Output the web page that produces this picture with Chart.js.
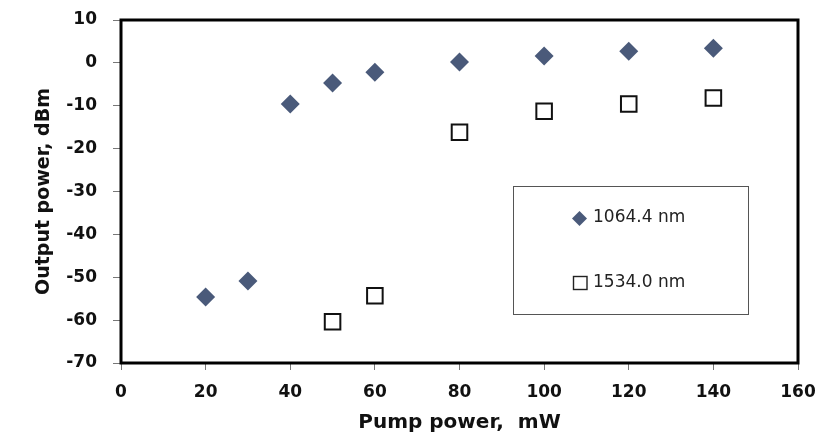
<!DOCTYPE html>
<html>
<head>
<meta charset="utf-8">
<script src="https://cdn.jsdelivr.net/npm/chart.js@4/dist/chart.umd.min.js"></script>
<style>
  html, body { margin: 0; padding: 0; background: #fff; }
  #wrap { width: 821px; height: 439px; }
</style>
</head>
<body>
<div id="wrap"><canvas id="pumpChart"></canvas></div>
<script>
// ========== DATA ==========
const pumpA = [20, 30, 40, 50, 60, 80, 100, 120, 140];
const outA = [-54.6, -50.9, -9.6, -4.7, -2.2, 0.2, 1.6, 2.7, 3.4];
const pumpB = [50, 60, 80, 100, 120, 140];
const outB = [-60.4, -54.3, -16.2, -11.3, -9.6, -8.2];
const seriesLabels = ['1064.4 nm', '1534.0 nm'];

const toPoints = (xs, ys) => xs.map((x, i) => ({ x: x, y: ys[i] }));

// frame around plot + legend box inside
const framePlugin = {
  id: 'frame',
  afterDraw(chart) {
    const { ctx, chartArea: a } = chart;
    ctx.save();
    ctx.strokeStyle = '#000';
    ctx.lineWidth = 3;
    ctx.strokeRect(a.left, a.top, a.right - a.left, a.bottom - a.top);

    // legend box
    const bx = 513, by = 186, bw = 235, bh = 128;
    ctx.lineWidth = 1;
    ctx.strokeStyle = '#555';
    ctx.fillStyle = '#fff';
    ctx.fillRect(bx, by, bw, bh);
    ctx.strokeRect(bx + 0.5, by + 0.5, bw, bh);

    // diamond
    ctx.fillStyle = '#4a5a7a';
    ctx.beginPath();
    ctx.moveTo(579.5, 211); ctx.lineTo(587, 218.5); ctx.lineTo(579.5, 226); ctx.lineTo(572, 218.5);
    ctx.closePath();
    ctx.fill();
    // square
    ctx.strokeStyle = '#222';
    ctx.lineWidth = 1.4;
    ctx.strokeRect(573.5, 276.5, 13.5, 13);

    ctx.fillStyle = '#222';
    ctx.font = '17px "DejaVu Sans"';
    ctx.textBaseline = 'middle';
    ctx.fillText(seriesLabels[0], 593, 218);
    ctx.fillText(seriesLabels[1], 593, 283);
    ctx.restore();
  }
};

const pumpChart = new Chart(document.getElementById('pumpChart'), {
  type: 'scatter',
  data: {
    datasets: [{
      label: seriesLabels[0],
      data: toPoints(pumpA, outA),
      pointStyle: 'rectRot',
      pointRadius: 9.5,
      pointHoverRadius: 9.5,
      backgroundColor: '#4a5a7a',
      borderColor: '#4a5a7a',
      borderWidth: 0
    }, {
      label: seriesLabels[1],
      data: toPoints(pumpB, outB),
      pointStyle: 'rect',
      pointRadius: 11,
      pointHoverRadius: 11,
      backgroundColor: '#fff',
      borderColor: '#111',
      borderWidth: 2
    }]
  },
  options: {
    responsive: true,
    maintainAspectRatio: false,
    animation: false,
    layout: { padding: { top: 20, right: 23, left: 0, bottom: 0 } },
    plugins: {
      legend: { display: false },
      tooltip: { enabled: false }
    },
    scales: {
      x: {
        type: 'linear',
        min: 0,
        max: 160,
        ticks: {
          stepSize: 20,
          color: '#111',
          padding: 12,
          font: { family: 'DejaVu Sans', size: 17, weight: 'bold' }
        },
        grid: { drawOnChartArea: false, tickLength: 7, color: '#777' },
        border: { display: false },
        title: {
          display: true,
          text: 'Pump power,  mW',
          color: '#111',
          padding: { top: 11 },
          font: { family: 'DejaVu Sans', size: 20, weight: 'bold' }
        },
        afterFit(scale) {
          scale.height = 76;
          scale.paddingLeft = 0;
          scale.paddingRight = 0;
        }
      },
      y: {
        min: -70,
        max: 10,
        ticks: {
          stepSize: 10,
          color: '#111',
          padding: 16,
          font: { family: 'DejaVu Sans', size: 17, weight: 'bold' }
        },
        grid: { drawOnChartArea: false, tickLength: 8, color: '#777' },
        border: { display: false },
        title: {
          display: true,
          text: 'Output power, dBm',
          color: '#111',
          padding: { bottom: 0, top: 33 },
          font: { family: 'DejaVu Sans', size: 19, weight: 'bold' }
        },
        afterFit(scale) {
          scale.width = 121;
          scale.paddingTop = 0;
          scale.paddingBottom = 0;
        }
      }
    }
  },
  plugins: [framePlugin]
});
</script>
</body>
</html>
